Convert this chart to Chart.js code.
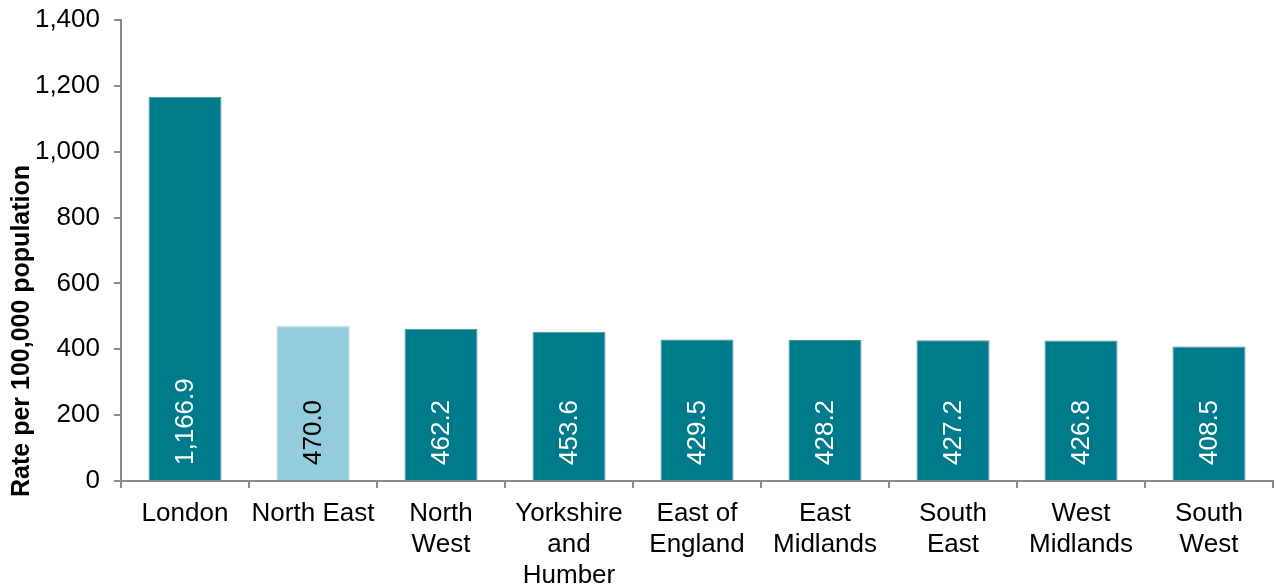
<!DOCTYPE html>
<html>
<head>
<meta charset="utf-8">
<script src="https://cdn.jsdelivr.net/npm/chart.js@4/dist/chart.umd.min.js"></script>
<style>
    html, body { margin: 0; padding: 0; background: #fff; }
    canvas { display: block; }
</style>
</head>
<body>
<canvas id="chart" width="1276" height="587"></canvas>
<script>
// Rates per 100,000 population, by region
const REGIONS = [
    'London',
    'North East',
    ['North', 'West'],
    ['Yorkshire', 'and', 'Humber'],
    ['East of', 'England'],
    ['East', 'Midlands'],
    ['South', 'East'],
    ['West', 'Midlands'],
    ['South', 'West'],
];
const RATES = [1166.9, 470.0, 462.2, 453.6, 429.5, 428.2, 427.2, 426.8, 408.5];
const HIGHLIGHT = 'North East';

const TEAL = '#007b8c';
const LIGHT = '#93cddd';
const AXIS = '#898989';
const FONT = '"Liberation Sans", Arial, sans-serif';

const nameOf = (label) => (Array.isArray(label) ? label.join(' ') : label);
const fmt = (v) => v.toLocaleString('en-GB', { minimumFractionDigits: 1, maximumFractionDigits: 1 });

// value written vertically inside each bar, reading upwards from the base
const barLabels = {
    id: 'barLabels',
    afterDatasetsDraw(chart) {
        const { ctx } = chart;
        const meta = chart.getDatasetMeta(0);
        ctx.save();
        ctx.font = `26px ${FONT}`;
        ctx.textAlign = 'left';
        ctx.textBaseline = 'middle';
        meta.data.forEach((bar, i) => {
            const highlighted = nameOf(REGIONS[i]) === HIGHLIGHT;
            ctx.fillStyle = highlighted ? '#000000' : '#ffffff';
            ctx.save();
            ctx.translate(bar.x + 1, bar.base - 15);
            ctx.rotate(-Math.PI / 2);
            ctx.fillText(fmt(RATES[i]), 0, 0);
            ctx.restore();
        });
        ctx.restore();
    },
};

// y-axis title, starting a little below the baseline
const yTitle = {
    id: 'yTitle',
    afterDraw(chart) {
        const { ctx } = chart;
        ctx.save();
        ctx.font = `bold 25px ${FONT}`;
        ctx.fillStyle = '#000000';
        ctx.textAlign = 'left';
        ctx.textBaseline = 'middle';
        ctx.translate(22, 497);
        ctx.rotate(-Math.PI / 2);
        ctx.fillText('Rate per 100,000 population', 0, 0);
        ctx.restore();
    },
};

new Chart(document.getElementById('chart'), {
    type: 'bar',
    data: {
        labels: REGIONS,
        datasets: [{
            data: RATES,
            backgroundColor: REGIONS.map((r) => (nameOf(r) === HIGHLIGHT ? LIGHT : TEAL)),
            borderColor: REGIONS.map((r) => (nameOf(r) === HIGHLIGHT ? '#a9bfc5' : '#4d8f99')),
            borderWidth: 1,
            barPercentage: 0.57,
            categoryPercentage: 1,
        }],
    },
    options: {
        responsive: false,
        animation: false,
        layout: { padding: { top: 20, right: 3, left: 0, bottom: 0 } },
        plugins: {
            legend: { display: false },
            tooltip: { enabled: false },
        },
        scales: {
            x: {
                grid: { drawOnChartArea: false, drawTicks: true, tickLength: 7, color: AXIS, lineWidth: 2, offset: true },
                border: { color: AXIS, width: 2 },
                ticks: {
                    color: '#000000',
                    font: { family: FONT, size: 26, lineHeight: 1.2 },
                    padding: 10,
                    maxRotation: 0,
                    autoSkip: false,
                },
                afterFit: (scale) => {
                    scale.height = 106;
                    scale.paddingLeft = 0;
                    scale.paddingRight = 0;
                },
            },
            y: {
                min: 0,
                max: 1400,
                grid: { drawOnChartArea: false, drawTicks: true, tickLength: 7, color: AXIS, lineWidth: 2 },
                border: { color: AXIS, width: 2 },
                ticks: {
                    stepSize: 200,
                    color: '#000000',
                    font: { family: FONT, size: 26 },
                    padding: 14,
                    callback: (v) => v.toLocaleString('en-GB'),
                },
                afterFit: (scale) => {
                    scale.width = 121;
                    scale.paddingTop = 0;
                    scale.paddingBottom = 0;
                },
            },
        },
    },
    plugins: [barLabels, yTitle],
});
</script>
</body>
</html>
